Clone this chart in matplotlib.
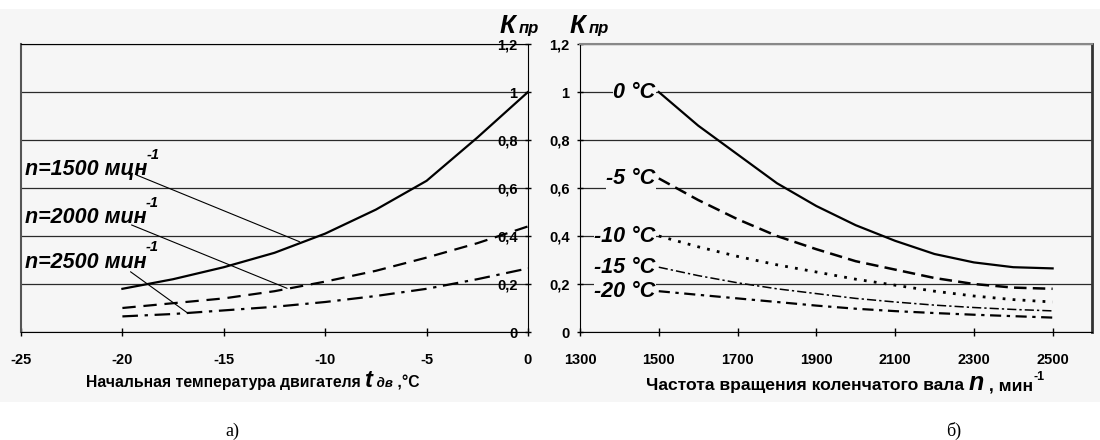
import matplotlib
matplotlib.use('Agg')
import matplotlib.pyplot as plt
from matplotlib.patches import Rectangle

plt.rcParams['font.family'] = ['Liberation Sans', 'DejaVu Sans']
plt.rcParams['font.weight'] = 'bold'

BG = '#f6f6f6'

# --- panel a): K_pr vs engine start temperature ---
temps = [-20, -17.5, -15, -12.5, -10, -7.5, -5, -2.5, 0]
k_n1500 = [0.18, 0.22, 0.27, 0.33, 0.41, 0.51, 0.63, 0.81, 1.0]
k_n2000 = [0.10, 0.12, 0.14, 0.17, 0.21, 0.255, 0.31, 0.37, 0.44]
k_n2500 = [0.065, 0.075, 0.09, 0.105, 0.125, 0.15, 0.18, 0.22, 0.265]
a_labels = ['n=1500 мцн', 'n=2000 мин', 'n=2500 мин']
a_text_xy = [(-24.8, 0.654), (-24.8, 0.454), (-24.8, 0.267)]
a_leader_from = [(-19.3, 0.654), (-19.55, 0.446), (-19.6, 0.251)]
a_leader_to = [(-11.26, 0.376), (-11.88, 0.182), (-16.8, 0.08)]
a_xticks = [-25, -20, -15, -10, -5, 0]

# --- panel b): K_pr vs crankshaft speed ---
rpm = [1500, 1600, 1700, 1800, 1900, 2000, 2100, 2200, 2300, 2400, 2500]
k_t0 = [1.0, 0.86, 0.74, 0.62, 0.525, 0.445, 0.38, 0.325, 0.29, 0.27, 0.265]
k_t5 = [0.64, 0.55, 0.47, 0.40, 0.345, 0.295, 0.26, 0.225, 0.20, 0.185, 0.18]
k_t10 = [0.40, 0.355, 0.315, 0.28, 0.25, 0.22, 0.195, 0.17, 0.15, 0.135, 0.125]
k_t15 = [0.27, 0.235, 0.205, 0.18, 0.16, 0.14, 0.125, 0.112, 0.102, 0.094, 0.088]
k_t20 = [0.17, 0.155, 0.14, 0.125, 0.11, 0.097, 0.087, 0.079, 0.072, 0.066, 0.06]
b_labels = ['0 °C', '-5 °C', '-10 °C', '-15 °C', '-20 °C']
b_xticks = [1300, 1500, 1700, 1900, 2100, 2300, 2500]

yticks = [0, 0.2, 0.4, 0.6, 0.8, 1.0, 1.2]
ytick_labels = ['0', '0,2', '0,4', '0,6', '0,8', '1', '1,2']

fig = plt.figure(figsize=(11, 4.4), dpi=100)
fig.patches.append(Rectangle((0, 1 - 402 / 440), 1, 393 / 440, transform=fig.transFigure,
                             facecolor=BG, edgecolor='none', zorder=-5))

axL = fig.add_axes([21 / 1100, 1 - 332 / 440, 507 / 1100, 288 / 440])
axR = fig.add_axes([580 / 1100, 1 - 332 / 440, 512 / 1100, 288 / 440])

# panel a: y axis sits at t=0 (right side), plain frame line at t=-25
axL.set_xlim(-25, 0)
axL.spines['left'].set_position(('data', 0))
axL.spines['right'].set_position(('data', -25))
axL.spines['right'].set_color('#555555')
axL.spines['right'].set_linewidth(1.5)

axR.set_xlim(1300, 2600)
axR.spines['right'].set_linewidth(2)
axR.spines['right'].set_color('#333333')
axR.spines['top'].set_color('#888888')
axR.spines['top'].set_linewidth(1.5)

for ax, xt in ((axL, a_xticks), (axR, b_xticks)):
    ax.set_facecolor('none')
    ax.set_ylim(0, 1.2)
    ax.set_axisbelow(True)
    ax.yaxis.grid(True, color='#2a2a2a', lw=0.9)
    ax.set_yticks(yticks, ytick_labels)
    ax.set_xticks(xt, [str(v) for v in xt])
    ax.tick_params(axis='y', direction='inout', length=5, width=1, pad=5, labelsize=10.5)
    ax.tick_params(axis='x', direction='inout', length=6, width=1, pad=12, labelsize=10.5)

axL.plot(temps, k_n1500, color='k', lw=1.6, ls='-')
axL.plot(temps, k_n2000, color='k', lw=1.6, ls=(0, (6, 3.5)))
axL.plot(temps, k_n2500, color='k', lw=1.6, ls=(0, (7, 3, 1.5, 3)))

for lab, txy, p0, p1 in zip(a_labels, a_text_xy, a_leader_from, a_leader_to):
    t = axL.text(txy[0], txy[1], lab, fontsize=15.5, style='italic',
                 ha='left', va='baseline')
    axL.annotate('-1', xy=(0.99, 0.88), xycoords=t, ha='left', va='bottom',
                 fontsize=10.5, style='italic')
    axL.annotate('', xy=p1, xytext=p0,
                 arrowprops=dict(arrowstyle='-', color='k', lw=0.8, shrinkA=0, shrinkB=0))

# panel b
series_b = [k_t0, k_t5, k_t10, k_t15, k_t20]
styles_b = [('-', 1.6), ((0, (5, 2.5)), 1.8), ((0, (1, 2.6)), 2.0),
            ((0, (6, 2, 1.5, 2)), 1.1), ((0, (5, 2.5, 1.5, 2.5)), 1.6)]
for vals, (ls, lw), lab in zip(series_b, styles_b, b_labels):
    axR.plot(rpm, vals, color='k', lw=lw, ls=ls)
    axR.text(rpm[0] - 8, vals[0], lab, ha='right', va='center', fontsize=15.5,
             style='italic', zorder=4,
             bbox=dict(facecolor=BG, edgecolor='none', pad=0.5))

# "K пр" axis titles
for x0 in (500 / 1100, 570 / 1100):
    tk = fig.text(x0, 1 - 33 / 440, 'К', fontsize=18.5, style='italic', va='baseline')
    axL.annotate('пр', xy=(1.0, 1 - 33 / 440), xycoords=(tk, 'figure fraction'),
                 xytext=(2, 0), textcoords='offset points',
                 fontsize=12, style='italic', va='baseline', annotation_clip=False)

# bottom axis labels
yb = 1 - 387 / 440
t1 = fig.text(86 / 1100, yb, 'Начальная температура двигателя ', fontsize=11.3,
              va='baseline')
t2 = axL.annotate('t', xy=(1.0, yb), xycoords=(t1, 'figure fraction'), fontsize=17,
                  style='italic', va='baseline', annotation_clip=False)
t3 = axL.annotate(' дв', xy=(1.0, yb), xycoords=(t2, 'figure fraction'), fontsize=9.5,
                  style='italic', va='baseline', annotation_clip=False)
axL.annotate(' ,°С', xy=(1.0, yb), xycoords=(t3, 'figure fraction'), fontsize=11.3,
             va='baseline', annotation_clip=False)

yr = 1 - 390 / 440
r1 = fig.text(646 / 1100, yr, 'Частота вращения коленчатого вала ', fontsize=12.6,
              va='baseline')
r2 = axR.annotate('n', xy=(1.0, yr), xycoords=(r1, 'figure fraction'), fontsize=18,
                  style='italic', va='baseline', annotation_clip=False)
r3 = axR.annotate(' , мин', xy=(1.0, yr), xycoords=(r2, 'figure fraction'), fontsize=12.6,
                  va='baseline', annotation_clip=False)
axR.annotate('-1', xy=(1.0, yr + 10 / 440), xycoords=(r3, 'figure fraction'), fontsize=9,
             va='baseline', annotation_clip=False)

# panel captions
fig.text(232 / 1100, 1 - 436 / 440, 'а)', family='Liberation Serif', fontweight='normal',
         fontsize=13, ha='center', va='baseline')
fig.text(954 / 1100, 1 - 436 / 440, 'б)', family='Liberation Serif', fontweight='normal',
         fontsize=13, ha='center', va='baseline')

fig.savefig('out.png', dpi=100, facecolor='white')
